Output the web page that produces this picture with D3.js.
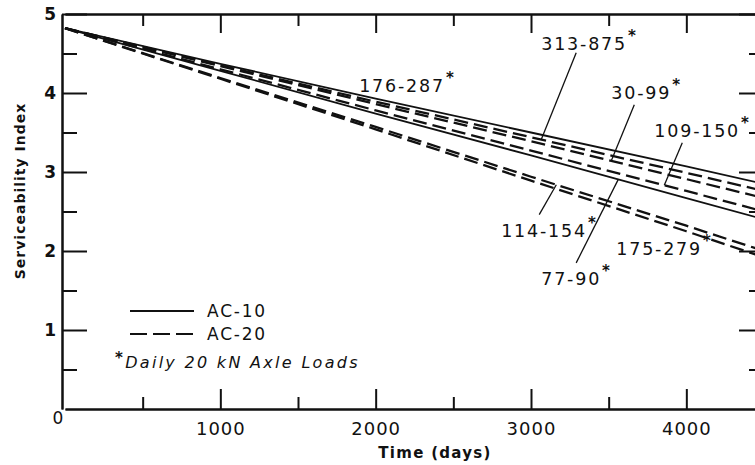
<!DOCTYPE html>
<html lang="en">
<head>
<meta charset="UTF-8" />
<style>
    body { margin: 0; background: #fff; }
    text { font-family: "DejaVu Sans", sans-serif; fill: #111; }
    .domain, .tick line { stroke: #111; stroke-width: 2; }
</style>
</head>
<body>
<svg width="755" height="465"></svg>
<script src="https://d3js.org/d3.v7.min.js"></script>
<script>
    // time axis points (days)
    var days = [0, 1000, 2000, 3000, 4000, 4500];

    // one entry per curve
    var loads = ["176-287", "313-875", "30-99", "109-150", "77-90", "114-154", "175-279"];
    var binder = ["AC-10", "AC-20", "AC-20", "AC-20", "AC-10", "AC-20", "AC-20"];
    var psi = [
        [4.82, 4.37, 3.93, 3.50, 3.07, 2.85],
        [4.82, 4.35, 3.89, 3.44, 2.99, 2.76],
        [4.82, 4.34, 3.86, 3.39, 2.91, 2.67],
        [4.82, 4.30, 3.78, 3.27, 2.76, 2.50],
        [4.82, 4.28, 3.74, 3.21, 2.67, 2.40],
        [4.82, 4.19, 3.57, 2.94, 2.32, 2.00],
        [4.82, 4.18, 3.54, 2.89, 2.25, 1.92]
    ];

    var xTicks = [1000, 2000, 3000, 4000];
    var xMinor = [500, 1500, 2500, 3500, 4500];
    var yTicks = [1, 2, 3, 4, 5];
    var yMinor = [0.5, 1.5, 2.5, 3.5, 4.5];

    // label placement in data units: text at [t, v], leader from [t, v] down to curve at time t
    var labelAt = [[1894, 4.01], [3066, 4.54], [3517, 3.92], [3794, 3.44], [3066, 1.57], [2808, 2.18], [3549, 1.95]];
    var leaderFrom = [null, [3291, 4.51], [3665, 3.85], [3974, 3.37], [3291, 1.85], [3053, 2.46], null];
    var leaderTo = [null, 3066, 3517, 3858, 3562, 3163, null];

    var svg = d3.select("svg");

    var x = d3.scaleLinear().domain([0, 4500]).range([65, 764]);
    var y = d3.scaleLinear().domain([0, 5]).range([409, 14]);

    function valueAt(s, t) {
        var vals = psi[s];
        for (var i = 1; i < days.length; i++) {
            if (t <= days[i]) {
                var f = (t - days[i - 1]) / (days[i] - days[i - 1]);
                return vals[i - 1] + f * (vals[i] - vals[i - 1]);
            }
        }
        return vals[vals.length - 1];
    }

    // axes, ticks pointing inwards on all four sides
    svg.append("g").attr("transform", "translate(0,409)")
        .call(d3.axisBottom(x).tickValues(xTicks).tickSize(-20).tickSizeOuter(0).tickPadding(13)
            .tickFormat(d3.format("d")))
        .call(function (g) {
            g.selectAll("text").style("font-size", "18px").style("letter-spacing", "1px");
        });
    svg.append("g").attr("transform", "translate(0,409)")
        .call(d3.axisBottom(x).tickValues(xMinor).tickSize(-12).tickSizeOuter(0).tickFormat(""));

    svg.append("g").attr("transform", "translate(0,14)")
        .call(d3.axisTop(x).tickValues(xTicks).tickSize(-19).tickSizeOuter(0).tickFormat(""));
    svg.append("g").attr("transform", "translate(0,14)")
        .call(d3.axisTop(x).tickValues(xMinor).tickSize(-12).tickSizeOuter(0).tickFormat(""));

    svg.append("g").attr("transform", "translate(62,0)")
        .call(d3.axisLeft(y).tickValues(yTicks).tickSize(-25).tickSizeOuter(0).tickPadding(6)
            .tickFormat(d3.format("d")))
        .call(function (g) {
            g.selectAll("text").style("font-size", "17px").style("font-weight", "bold");
        });
    svg.append("g").attr("transform", "translate(62,0)")
        .call(d3.axisLeft(y).tickValues(yMinor).tickSize(-15).tickSizeOuter(0).tickFormat(""));

    svg.append("g").attr("transform", "translate(764,0)")
        .call(d3.axisRight(y).tickValues(yTicks).tickSize(-25).tickSizeOuter(0).tickFormat(""));
    svg.append("g").attr("transform", "translate(764,0)")
        .call(d3.axisRight(y).tickValues(yMinor).tickSize(-15).tickSizeOuter(0).tickFormat(""));

    svg.selectAll(".tick line").style("stroke-width", 2);

    // shared zero at the corner
    svg.append("text").attr("x", 58).attr("y", 424)
        .attr("text-anchor", "middle").style("font-size", "17px").text("0");

    svg.append("text")
        .attr("transform", "translate(25,191) rotate(-90)")
        .attr("text-anchor", "middle")
        .style("font-size", "14px").style("font-weight", "bold").style("letter-spacing", "1px")
        .text("Serviceability Index");

    svg.append("text").attr("x", 435).attr("y", 458)
        .attr("text-anchor", "middle")
        .style("font-size", "15px").style("font-weight", "bold").style("letter-spacing", "1.3px")
        .text("Time (days)");

    // curves
    var line = d3.line()
        .x(function (d, i) { return x(days[i]); })
        .y(function (d) { return y(d); });

    svg.append("g").selectAll("path")
        .data(psi)
        .enter().append("path")
        .attr("d", line)
        .attr("fill", "none")
        .attr("stroke", "#111")
        .attr("stroke-width", function (d, i) { return binder[i] === "AC-10" ? 1.8 : 2.3; })
        .attr("stroke-dasharray", function (d, i) { return binder[i] === "AC-10" ? null : "14,6"; });

    // leaders
    loads.forEach(function (name, i) {
        if (leaderFrom[i]) {
            svg.append("line")
                .attr("x1", x(leaderFrom[i][0])).attr("y1", y(leaderFrom[i][1]))
                .attr("x2", x(leaderTo[i])).attr("y2", y(valueAt(i, leaderTo[i])))
                .attr("stroke", "#111").attr("stroke-width", 1.3);
        }
        var t = svg.append("text")
            .attr("x", x(labelAt[i][0])).attr("y", y(labelAt[i][1]))
            .style("font-size", "17.5px").style("letter-spacing", "1.8px")
            .text(name);
        t.append("tspan").attr("dy", -9).attr("dx", 1)
            .style("font-size", "15px").style("font-weight", "bold").text("*");
    });

    // legend
    var legend = svg.append("g");
    ["AC-10", "AC-20"].forEach(function (b, i) {
        var ly = 311 + i * 23;
        legend.append("line")
            .attr("x1", 130).attr("x2", 194).attr("y1", ly).attr("y2", ly)
            .attr("stroke", "#111").attr("stroke-width", 2)
            .attr("stroke-dasharray", b === "AC-10" ? null : "17,6");
        legend.append("text").attr("x", 207).attr("y", ly + 6)
            .style("font-size", "17px").style("letter-spacing", "1.8px").text(b);
    });
    var note = legend.append("text").attr("x", 115).attr("y", 368)
        .style("font-size", "16px").style("font-style", "italic").style("letter-spacing", "2.3px");
    note.append("tspan").attr("dy", -5).style("font-size", "15px").style("font-weight", "bold").text("*");
    note.append("tspan").attr("dy", 5).text("Daily 20 kN Axle Loads");
</script>
</body>
</html>
